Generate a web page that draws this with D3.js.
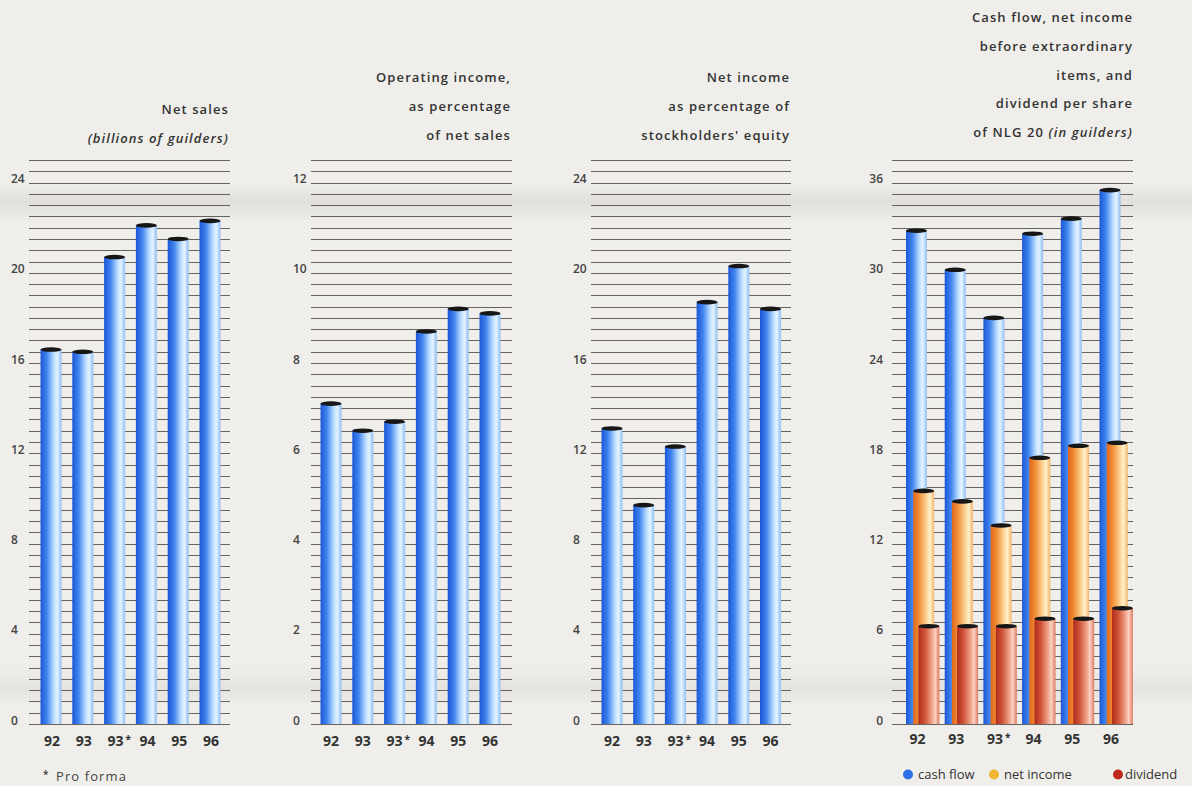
<!DOCTYPE html>
<html>
<head>
<meta charset="utf-8">
<script src="https://cdn.jsdelivr.net/npm/d3@7"></script>
<style>
  html, body { margin: 0; padding: 0; background: #efeeea; }
  svg { display: block; }
  text { font-family: "Open Sans", "DejaVu Sans", sans-serif; fill: #333; }
</style>
</head>
<body>
<svg id="chart" width="1192" height="786"></svg>
<script>
// ---------- DATA ----------
const years = ["92", "93", "93*", "94", "95", "96"];

const netSales = [16.6, 16.5, 20.7, 22.1, 21.5, 22.3];          // billions of guilders
const operatingIncomePct = [7.1, 6.5, 6.7, 8.7, 9.2, 9.1];      // % of net sales
const netIncomePct = [13.1, 9.7, 12.3, 18.7, 20.3, 18.4];       // % of stockholders' equity
const cashFlowPerShare = [32.8, 30.2, 27.0, 32.6, 33.6, 35.5];   // guilders
const netIncomePerShare = [15.5, 14.8, 13.2, 17.7, 18.5, 18.7];  // guilders
const dividendPerShare = [6.5, 6.5, 6.5, 7.0, 7.0, 7.7];         // guilders

const ticks1 = [0, 4, 8, 12, 16, 20, 24];
const ticks2 = [0, 2, 4, 6, 8, 10, 12];
const ticks3 = [0, 4, 8, 12, 16, 20, 24];
const ticks4 = [0, 6, 12, 18, 24, 30, 36];

const title1 = ["Net sales", "(billions of guilders)"];
const title2 = ["Operating income,", "as percentage", "of net sales"];
const title3 = ["Net income", "as percentage of", "stockholders' equity"];
const title4 = ["Cash flow, net income", "before extraordinary", "items, and", "dividend per share", "of NLG 20 (in guilders)"];

const legendLabels = ["cash flow", "net income", "dividend"];
const footnote = "Pro forma";

// ---------- DRAWING ----------
const svg = d3.select("#chart");
const defs = svg.append("defs");

function hGrad(id, stops) {
  const g = defs.append("linearGradient").attr("id", id)
    .attr("x1", "0%").attr("x2", "100%").attr("y1", "0%").attr("y2", "0%");
  stops.forEach(s => g.append("stop").attr("offset", s[0]).attr("stop-color", s[1]));
}
hGrad("gBlue", [["0%", "#1c56d6"], ["30%", "#3f83ee"], ["65%", "#bfe0ff"], ["80%", "#e4f3ff"], ["100%", "#8fbff2"]]);
hGrad("gOrange", [["0%", "#e0661a"], ["30%", "#f2913a"], ["65%", "#fcd79a"], ["80%", "#fff0cc"], ["100%", "#f4b46a"]]);
hGrad("gRed", [["0%", "#b02c1c"], ["30%", "#cf5338"], ["65%", "#f0a58c"], ["80%", "#fbd2c2"], ["100%", "#de7a62"]]);

// background scan bands
const vb = defs.append("linearGradient").attr("id", "band")
  .attr("x1", "0%").attr("x2", "0%").attr("y1", "0%").attr("y2", "100%");
vb.append("stop").attr("offset", "0%").attr("stop-color", "#dedcd8").attr("stop-opacity", 0);
vb.append("stop").attr("offset", "50%").attr("stop-color", "#dedcd8").attr("stop-opacity", 1);
vb.append("stop").attr("offset", "100%").attr("stop-color", "#dedcd8").attr("stop-opacity", 0);
svg.append("rect").attr("x", 0).attr("y", 182).attr("width", 1192).attr("height", 40).attr("fill", "url(#band)").attr("opacity", 0.8);
svg.append("rect").attr("x", 0).attr("y", 668).attr("width", 1192).attr("height", 40).attr("fill", "url(#band)").attr("opacity", 0.6);

const Y0 = 724, YTOP = 160;
const barW = 21;

function panel(cfg) {
  const g = svg.append("g");
  const y = d3.scaleLinear().domain([0, cfg.max]).range([Y0, YTOP]);
  const x = d3.scalePoint().domain(years).range(cfg.xr);

  // grid lines
  const gridVals = d3.range(0, 51).map(i => i * cfg.max / 50);
  g.selectAll("line.grid").data(gridVals).enter().append("line")
    .attr("x1", cfg.gx[0]).attr("x2", cfg.gx[1])
    .attr("y1", d => Math.round(y(d)) + 0.5).attr("y2", d => Math.round(y(d)) + 0.5)
    .attr("stroke", "#66625e").attr("stroke-width", 1);

  // y axis labels
  const axis = cfg.anchor === "end" ? d3.axisLeft(y) : d3.axisRight(y);
  const ag = g.append("g").attr("transform", `translate(${cfg.lx},0)`)
    .call(axis.tickValues(cfg.ticks).tickSize(0).tickPadding(0).tickFormat(d3.format("d")));
  ag.select(".domain").remove();
  ag.selectAll("text").attr("dy", "0").attr("text-anchor", cfg.anchor)
    .style("font-size", "12px").style("font-weight", 600).style("fill", "#444")
    .style("font-family", '"Open Sans", sans-serif');

  // bars
  cfg.series.forEach(s => {
    const bg = g.append("g");
    bg.selectAll("rect").data(s.values).enter().append("rect")
      .attr("x", (d, i) => x(years[i]) + s.off - barW / 2)
      .attr("y", d => y(d))
      .attr("width", barW)
      .attr("height", d => Y0 - y(d))
      .attr("fill", s.fill);
    bg.selectAll("ellipse").data(s.values).enter().append("ellipse")
      .attr("cx", (d, i) => x(years[i]) + s.off)
      .attr("cy", d => y(d))
      .attr("rx", barW / 2).attr("ry", 2.3)
      .attr("fill", "#161616");
  });

  // x labels
  const xl = g.append("g");
  years.forEach((yr, i) => {
    const lbl = yr.replace("*", "");
    xl.append("text").attr("x", x(yr) + cfg.lo).attr("y", cfg.ly)
      .attr("text-anchor", "middle")
      .style("font-size", "14px").style("font-weight", 700).style("fill", "#333")
      .text(lbl);
    if (yr.includes("*")) {
      xl.append("text").attr("x", x(yr) + cfg.lo + 10).attr("y", cfg.ly - 3)
        .style("font-size", "10px").style("font-weight", 700).text("*");
    }
  });

  // title
  const tg = g.append("g");
  cfg.title.forEach((t, i) => {
    const tx = tg.append("text").attr("x", cfg.tx).attr("y", cfg.ty + i * 28.8)
      .attr("text-anchor", "end")
      .style("font-size", "13px").style("font-weight", 600).style("letter-spacing", "1.1px");
    if (t.includes("(")) {
      const k = t.indexOf("(");
      if (k > 0) tx.append("tspan").text(t.slice(0, k));
      tx.append("tspan").style("font-style", "italic").text(t.slice(k));
    } else {
      tx.text(t);
    }
  });
}

panel({ max: 25, xr: [51, 210], gx: [29, 230], lx: 11, anchor: "start", ticks: ticks1,
  series: [{ values: netSales, fill: "url(#gBlue)", off: 0 }],
  ly: 746, lo: 1, title: title1, tx: 229, ty: 114 });

panel({ max: 12.5, xr: [331, 490], gx: [311, 512], lx: 293, anchor: "start", ticks: ticks2,
  series: [{ values: operatingIncomePct, fill: "url(#gBlue)", off: 0 }],
  ly: 746, lo: 0, title: title2, tx: 511, ty: 82 });

panel({ max: 25, xr: [612, 770.5], gx: [591, 791], lx: 573, anchor: "start", ticks: ticks3,
  series: [{ values: netIncomePct, fill: "url(#gBlue)", off: 0 }],
  ly: 746, lo: 0, title: title3, tx: 790, ty: 82 });

panel({ max: 37.5, xr: [916.5, 1110], gx: [892, 1133], lx: 883, anchor: "end", ticks: ticks4,
  series: [
    { values: cashFlowPerShare, fill: "url(#gBlue)", off: 0 },
    { values: netIncomePerShare, fill: "url(#gOrange)", off: 7.2 },
    { values: dividendPerShare, fill: "url(#gRed)", off: 12.4 }
  ],
  ly: 744, lo: 1, title: title4, tx: 1133, ty: 22 });

// footnote
svg.append("text").attr("x", 43).attr("y", 778).style("font-size", "10px").style("font-weight", 600).text("*");
svg.append("text").attr("x", 56).attr("y", 781)
  .style("font-size", "13px").style("font-weight", 500).style("letter-spacing", "1.1px").style("fill", "#444")
  .text(footnote);

// legend
const legColors = ["#2f6fe8", "#f2b632", "#c0271c"];
const legX = [908, 994, 1118];
const legTX = [918, 1004, 1125];
legendLabels.forEach((l, i) => {
  svg.append("circle").attr("cx", legX[i]).attr("cy", 774.5).attr("r", 5).attr("fill", legColors[i]);
  svg.append("text").attr("x", legTX[i]).attr("y", 778.5)
    .style("font-size", "13px").style("fill", "#333").text(l);
});
</script>
</body>
</html>
